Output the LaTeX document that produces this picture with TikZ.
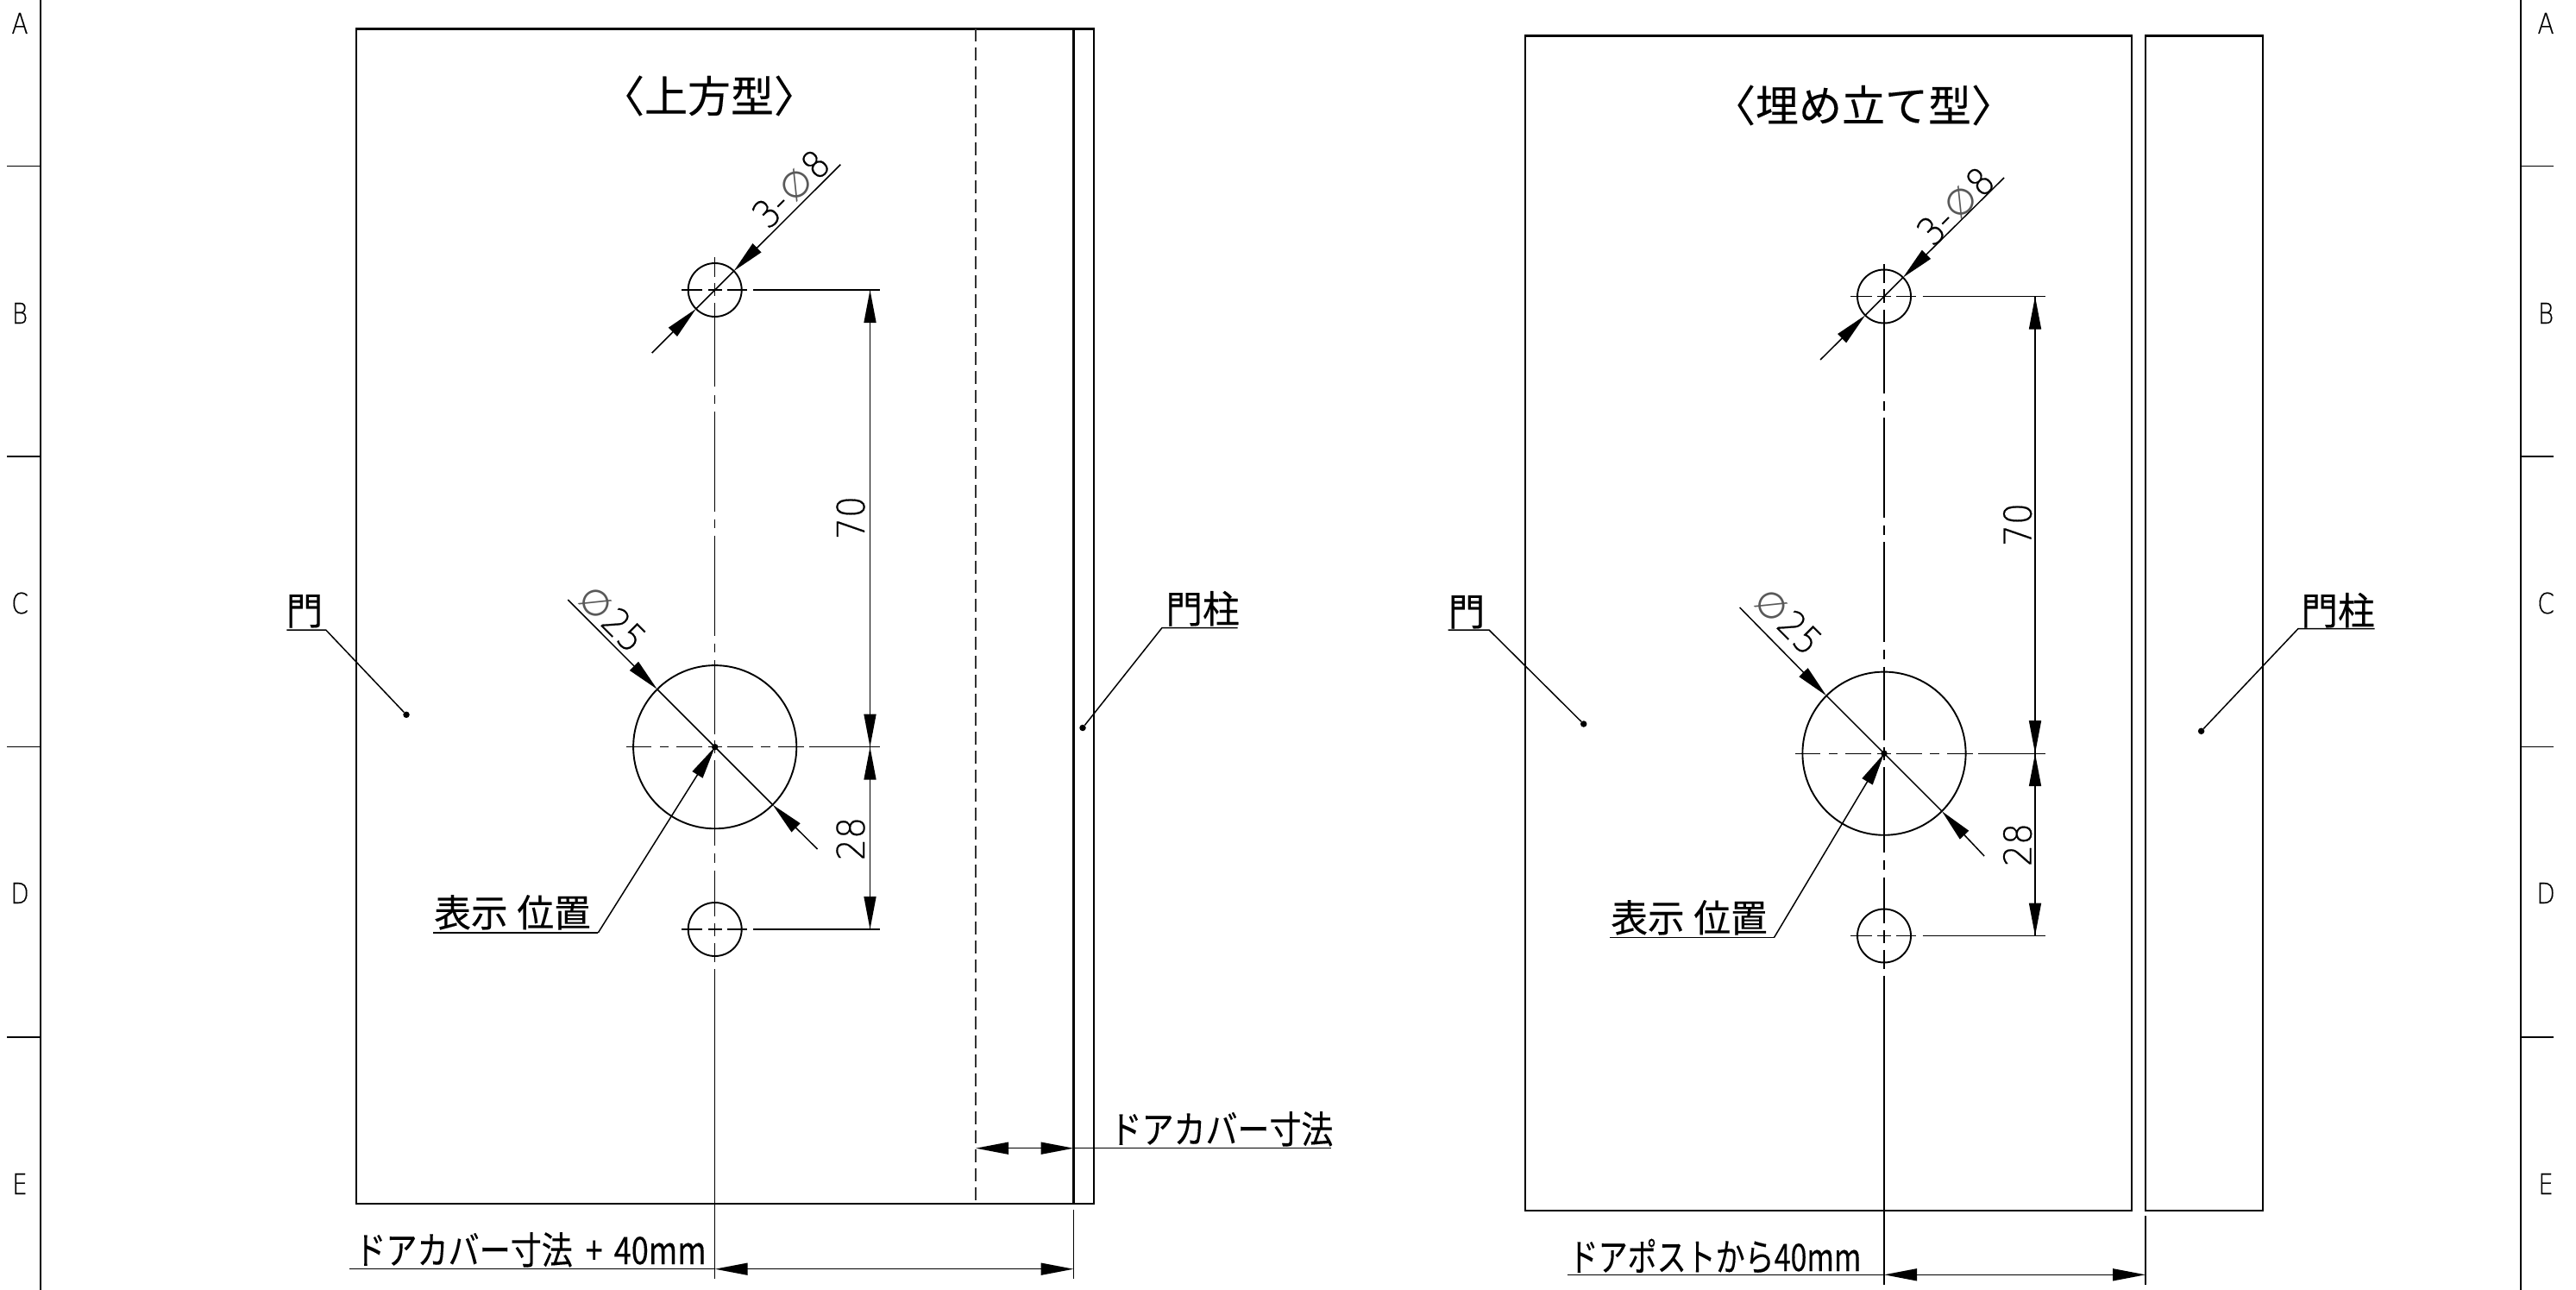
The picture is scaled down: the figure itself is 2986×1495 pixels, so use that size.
\documentclass[tikz,border=0pt]{standalone}
\usepackage{fontspec}
\usepackage{graphicx}
\usetikzlibrary{arrows.meta}
\newfontfamily\jpf[FakeBold=0.25]{Noto Sans CJK JP}
\newfontfamily\thinf[FakeBold=0.5]{DejaVu Sans ExtraLight}
\newfontfamily\symf{DejaVu Sans}
\newcommand{\jl}[1]{{\fontsize{44}{44}\selectfont\jpf\scalebox{.97}[1]{#1}}}
\newcommand{\jk}[2]{{\fontsize{44}{44}\selectfont\jpf\scalebox{#1}[1]{#2}}}
\newcommand{\jt}[1]{{\fontsize{50}{50}\selectfont\jpf\kern-.4em #1\kern-.4em}}
\newcommand{\dm}[1]{{\fontsize{44}{44}\selectfont\thinf\scalebox{.9}[1]{#1}}}
\newcommand{\bl}[1]{{\fontsize{33}{33}\selectfont\thinf\scalebox{.85}[1]{#1}}}
\newcommand{\dphi}{{\fontsize{42}{42}\selectfont\symf\color{black!65}∅}}
\tikzset{
  outline/.style={line width=2.2pt,black},
  thinline/.style={line width=1.5pt,black},
  dashline/.style={line width=1.5pt,black!80,dash pattern=on 15pt off 7pt},
  cl/.style={line width=1.35pt,black},
  holeline/.style={line width=1.9pt,black},
  arr/.style={line width=1.5pt,black,-{Triangle[length=38pt,width=14pt]}},
  arrb/.style={line width=1.5pt,black,{Triangle[length=38pt,width=14pt]}-{Triangle[length=38pt,width=14pt]}},
  lab/.style={inner sep=0pt,anchor=base},
  dotmark/.style={circle,fill=black,inner sep=0pt,minimum size=7.5pt},
}
% centre lines and extension lines of one figure, drawn around the left figure's coordinates
\newcommand{\holes}[1]{%
  \foreach \a/\b in {298.3/320.7,328/343,351/448.3,457.7/468,476.7/592.7,601.7/612,620.7/736.7,745.7/756,765/850.7,858.3/873,881/980,989.3/1000,1009/1062,1070/1085,1093/1115,1123/1481.7}
    \draw[cl] (828.7,\a) -- (828.7,\b);
  \foreach \a/\b in {790/814.3,820.7/836.7,843/866}{
    \draw[cl] (\a,336) -- (\b,336);
    \draw[cl] (\a,1077) -- (\b,1077);}
  \foreach \a/\b in {726/755,765/775,784/814,821/837,843/873,882/893,902/932}
    \draw[cl] (\a,865.7) -- (\b,865.7);
  \draw[cl] (873.3,336) -- (#1+11.5,336);
  \draw[cl] (938,865.7) -- (#1+11.5,865.7);
  \draw[cl] (873.3,1077) -- (#1+11.5,1077);
  \draw[holeline] (828.7,336) circle (31);
  \draw[holeline] (828.7,865.7) circle (94.6);
  \draw[holeline] (828.7,1077) circle (31);
}
\begin{document}
\begin{tikzpicture}[x=1pt,y=-1pt]
\useasboundingbox (0,0) rectangle (2986,1495);
\fill[white] (0,0) rectangle (2986,1495);
% sheet border
\draw[outline,line width=1.8pt] (46.7,0) -- (46.7,1495);
\draw[outline,line width=1.8pt] (2922,0) -- (2922,1495);
\foreach \y in {192.6,528.7,865.5,1202}{
  \draw[thinline,line width=1.8pt,black] (8,\y) -- (46.7,\y);
  \draw[thinline,line width=1.8pt,black] (2922,\y) -- (2960,\y);}
\foreach \n/\y in {A/39,B/375,C/711,D/1047,E/1384}{
  \node[lab] (bl\n) at (23,\y) {\bl{\n}};
  \node[lab] (br\n) at (2951,\y) {\bl{\n}};}

% ---------- left figure ----------
\draw[outline] (412.7,33.5) rectangle (1267.7,1395);
\draw[outline] (1244.5,33.5) -- (1244.5,1395);
\draw[dashline] (1131,33.5) -- (1131,1395);
\holes{1008.5}
\node[lab] (ltitle) at (822,130) {\jt{〈上方型〉}};

\coordinate (lc1) at (828.7,336);
\coordinate (lc2) at (828.7,865.7);
\coordinate (lc3) at (828.7,1077);
\coordinate (ld1) at (1008.5,336);
\coordinate (ld2) at (1008.5,865.7);
\coordinate (ld3) at (1008.5,1077);
\draw[arr] (ld2) -- (ld1);
\draw[arr] (ld1) -- (ld2);
\draw[arr] (ld3) -- (ld2);
\draw[arr] (ld2) -- (ld3);
\node[lab,rotate=90] (l70) at (1002,600) {\dm{70}};
\node[lab,rotate=90] (l28) at (1002,972) {\dm{28}};

\coordinate (la1) at (755.7,409);
\coordinate (la2) at (806.8,357.9);
\coordinate (la3) at (850.6,314.1);
\coordinate (la4) at (974.3,190.7);
\draw[arr] (la1) -- (la2);
\draw[thinline] (la2) -- (la3);
\draw[arr] (la4) -- (la3);
\node[lab,rotate=45] (lphi8) at (928,230) {\dm{3-}\kern3pt\dphi\kern1pt\dm{8}};

\coordinate (lb1) at (658.3,695);
\coordinate (lb2) at (761.8,798.8);
\coordinate (lb3) at (895.6,932.6);
\coordinate (lb4) at (947.5,984);
\draw[arr] (lb1) -- (lb2);
\draw[thinline] (lb2) -- (lb3);
\draw[arr] (lb4) -- (lb3);
\node[lab,rotate=-45] (lphi25) at (699,728) {\dphi\kern1pt\dm{25}};
\node[dotmark] (lcdot) at (lc2) {};

\node[lab] (lpos) at (594,1074) {\jl{表示\kern11pt 位置}};
\coordinate (lp1) at (502.3,1081);
\coordinate (lp2) at (693.3,1081);
\draw[thinline] (lp1) -- (lp2);
\draw[arr] (lp2) -- (lc2);

\node[lab] (lgate) at (353,724) {\jl{門}};
\coordinate (lg1) at (332.3,730);
\coordinate (lg2) at (377.7,730);
\node[dotmark] (lg3) at (471,828.3) {};
\draw[thinline] (lg1) -- (lg2) -- (lg3);

\node[lab] (lpost) at (1394,722) {\jl{門柱}};
\coordinate (lh1) at (1434.7,727.5);
\coordinate (lh2) at (1347,727.5);
\node[dotmark] (lh3) at (1255,843.5) {};
\draw[thinline] (lh1) -- (lh2) -- (lh3);

\node[lab] (lcov) at (1416,1325) {\jk{.84}{ドアカバー寸法}};
\coordinate (lk1) at (1131,1330.7);
\coordinate (lk2) at (1244.5,1330.7);
\coordinate (lk3) at (1543,1330.7);
\draw[arrb] (lk1) -- (lk2);
\draw[thinline] (lk2) -- (lk3);

\node[lab] (lcov40) at (615,1465) {\jk{.82}{ドアカバー寸法\hspace{18pt}+\hspace{16pt}40mm}};
\coordinate (lm1) at (405,1470.7);
\coordinate (lm2) at (828.7,1470.7);
\coordinate (lm3) at (1244.5,1470.7);
\coordinate (lm4) at (1244.5,1402);
\coordinate (lm5) at (1244.5,1481.7);
\draw[thinline] (lm1) -- (lm2);
\draw[arrb] (lm2) -- (lm3);
\draw[thinline] (lm4) -- (lm5);

% ---------- right figure ----------
\draw[outline] (1768,41.6) rectangle (2470.7,1402.7);
\draw[outline] (2487,41.6) rectangle (2623,1402.7);
\begin{scope}[shift={(1355.3,7.5)}]
\holes{1003.7}
\end{scope}
\node[lab] (rtitle) at (2160,141) {\jt{〈埋め立て型〉}};

\coordinate (rc1) at (2184,343.5);
\coordinate (rc2) at (2184,873.2);
\coordinate (rc3) at (2184,1084.5);
\coordinate (rd1) at (2359,343.5);
\coordinate (rd2) at (2359,873.2);
\coordinate (rd3) at (2359,1084.5);
\draw[arr] (rd2) -- (rd1);
\draw[arr] (rd1) -- (rd2);
\draw[arr] (rd3) -- (rd2);
\draw[arr] (rd2) -- (rd3);
\node[lab,rotate=90] (r70) at (2354.6,608) {\dm{70}};
\node[lab,rotate=90] (r28) at (2354.6,979) {\dm{28}};

\coordinate (ra1) at (2110,417);
\coordinate (ra2) at (2162.1,365.4);
\coordinate (ra3) at (2205.9,321.6);
\coordinate (ra4) at (2323,206);
\draw[arr] (ra1) -- (ra2);
\draw[thinline] (ra2) -- (ra3);
\draw[arr] (ra4) -- (ra3);
\node[lab,rotate=45] (rphi8) at (2278,250) {\dm{3-}\kern3pt\dphi\kern1pt\dm{8}};

\coordinate (rb1) at (2016.6,704);
\coordinate (rb2) at (2117.1,806.3);
\coordinate (rb3) at (2250.9,940.1);
\coordinate (rb4) at (2300,992);
\draw[arr] (rb1) -- (rb2);
\draw[thinline] (rb2) -- (rb3);
\draw[arr] (rb4) -- (rb3);
\node[lab,rotate=-45] (rphi25) at (2062,731) {\dphi\kern1pt\dm{25}};
\node[dotmark] (rcdot) at (rc2) {};

\node[lab] (rpos) at (1958,1080) {\jl{表示\kern11pt 位置}};
\coordinate (rp1) at (1866,1086.3);
\coordinate (rp2) at (2056.6,1086.3);
\draw[thinline] (rp1) -- (rp2);
\draw[arr] (rp2) -- (rc2);

\node[lab] (rgate) at (1700,725) {\jl{門}};
\coordinate (rg1) at (1678.6,730);
\coordinate (rg2) at (1726,730);
\node[dotmark] (rg3) at (1835.7,839) {};
\draw[thinline] (rg1) -- (rg2) -- (rg3);

\node[lab] (rpost) at (2710,724) {\jl{門柱}};
\coordinate (rh1) at (2752.5,728.5);
\coordinate (rh2) at (2664,728.5);
\node[dotmark] (rh3) at (2551.6,847.3) {};
\draw[thinline] (rh1) -- (rh2) -- (rh3);

\node[lab] (rpost40) at (1988,1473) {\jk{.773}{ドアポストから40mm}};
\coordinate (rm1) at (1816.7,1477.3);
\coordinate (rm2) at (2184,1477.3);
\coordinate (rm3) at (2487,1477.3);
\coordinate (rm4) at (2487,1409.4);
\coordinate (rm5) at (2487,1489);
\draw[thinline] (rm1) -- (rm2);
\draw[arrb] (rm2) -- (rm3);
\draw[thinline] (rm4) -- (rm5);
\end{tikzpicture}
\end{document}
